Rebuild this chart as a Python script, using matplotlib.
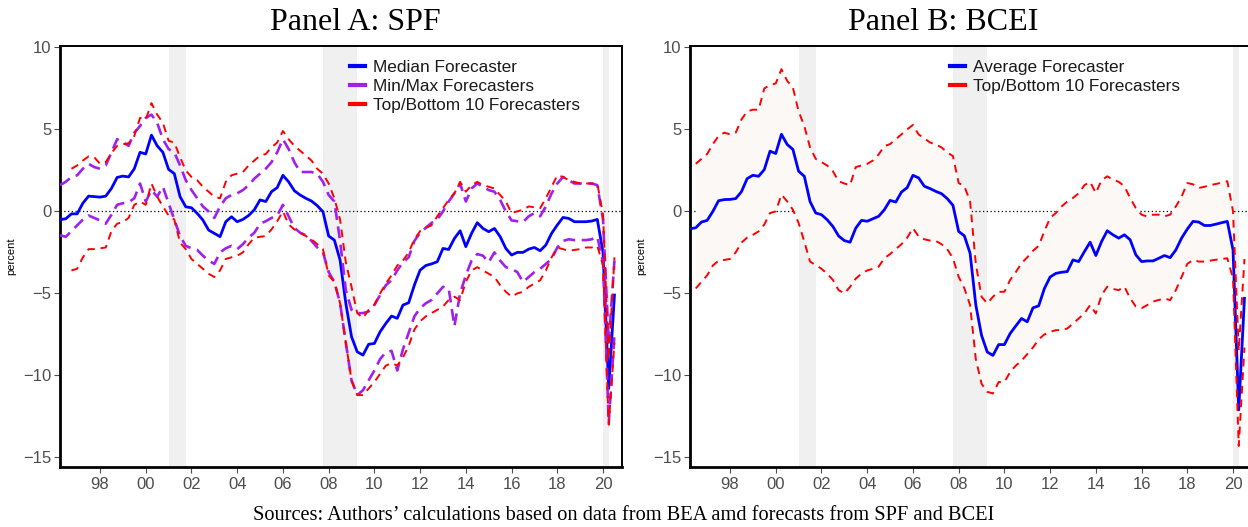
import numpy as np
import pandas as pd
import matplotlib
matplotlib.use("Agg")
import matplotlib.pyplot as plt

# ---------------- data ----------------
quarters = pd.period_range("1996Q2", "2020Q3", freq="Q")

# Panel A: SPF
spf_median = [-0.5, -0.45, -0.15, -0.15, 0.5, 0.93, 0.9, 0.87, 0.93, 1.4,
              2.07, 2.15, 2.1, 2.6, 3.6, 3.5, 4.65, 4.0, 3.6, 2.56,
              2.3, 0.9, 0.28, 0.22, -0.12, -0.53, -1.14, -1.34, -1.54, -0.63,
              -0.33, -0.63, -0.49, -0.25, 0.1, 0.7, 0.6, 1.2, 1.45, 2.2,
              1.8, 1.26, 1.0, 0.8, 0.63, 0.35, -0.02, -1.5, -1.75, -2.97,
              -5.6, -7.64, -8.56, -8.76, -8.1, -8.05, -7.34, -6.83, -6.38, -6.52,
              -5.71, -5.57, -4.49, -3.58, -3.3, -3.2, -3.07, -2.26, -2.32, -1.65,
              -1.18, -2.15, -1.34, -0.69, -1.04, -1.24, -1.04, -1.54, -2.26, -2.66,
              -2.5, -2.5, -2.3, -2.2, -2.4, -2.05, -1.34, -0.83, -0.37, -0.43,
              -0.63, -0.63, -0.63, -0.59, -0.49, -2.5, -10.8, -5.1]

spf_max = [1.6, 1.8, 2.1, 2.2, 2.6, 2.9, 2.7, 2.6, 2.8, 3.6,
           4.4, 4.2, 4.0, 4.8, 5.2, 5.7, 5.9, 5.4, 4.4, 3.8,
           3.6, 2.8, 1.9, 1.3, 0.8, 0.3, 0.0, -0.4, 0.3, 0.8,
           1.0, 1.1, 1.3, 1.6, 2.0, 2.3, 2.6, 3.0, 3.6, 4.4,
           3.8, 3.0, 2.4, 2.4, 2.4, 2.3, 1.8, 1.0, 0.6, -1.8,
           -4.8, -6.0, -6.2, -6.2, -6.1, -5.7, -5.1, -4.5, -4.2, -3.6,
           -3.1, -2.8, -1.8, -1.3, -1.0, -0.7, -0.5, 0.0, 0.6, 1.1,
           1.7, 0.6, 1.4, 1.7, 1.5, 1.3, 1.2, 0.7, 0.0, -0.55,
           -0.6, -0.65, -0.3, -0.1, -0.3, 0.3, 1.1, 1.7, 2.1, 1.9,
           1.7, 1.7, 1.7, 1.7, 1.6, -0.5, -8.0, -3.0]

spf_min = [-1.45, -1.55, -1.2, -0.85, -0.5, -0.25, -0.4, -0.55, -0.75, -0.2,
           0.4, 0.5, 0.55, 0.8, 1.7, 0.6, 1.3, 0.9, 1.5, 0.5,
           -0.5, -1.5, -2.1, -2.25, -2.35, -2.7, -3.0, -3.2, -2.5, -2.25,
           -2.1, -2.3, -2.0, -1.6, -1.3, -0.75, -0.6, -0.4, -0.25, 0.4,
           -0.3, -1.0, -1.3, -1.45, -1.8, -2.2, -2.5, -3.7, -4.3, -5.6,
           -8.0, -10.3, -11.2, -10.9, -10.3, -9.7, -9.0, -8.6, -8.5, -9.7,
           -8.4, -7.4, -6.4, -5.9, -5.6, -5.4, -5.0, -4.6, -4.7, -7.0,
           -5.0, -3.9, -3.0, -2.6, -2.7, -3.1, -2.5, -3.0, -3.4, -3.5,
           -3.7, -4.3, -4.0, -3.7, -3.5, -3.2, -2.9, -2.2, -1.8, -1.7,
           -1.75, -1.75, -1.75, -1.7, -1.55, -3.1, -12.9, -7.5]

nan = np.nan
spf_top10 = [nan, nan, 2.6, 2.8, 3.1, 3.35, 3.3, 2.9, 3.0, 3.55,
             4.0, 4.1, 4.15, 4.6, 5.7, 5.6, 6.6, 5.9, 5.4, 4.3,
             4.2, 3.3, 2.5, 2.1, 1.9, 1.5, 1.2, 0.9, 0.8, 1.8,
             2.2, 2.3, 2.4, 2.8, 3.1, 3.4, 3.5, 3.9, 4.2, 4.9,
             4.4, 4.0, 3.7, 3.4, 3.1, 2.6, 2.3, 1.7, 0.8, -0.5,
             -3.1, -4.6, -6.2, -6.5, -6.0, -5.7, -5.0, -4.4, -3.9, -3.3,
             -3.0, -2.5, -1.7, -1.2, -1.0, -0.85, -0.3, 0.2, 0.7, 1.1,
             1.8, 1.2, 1.6, 1.8, 1.6, 1.5, 1.4, 1.0, 0.6, -0.1,
             0.0, 0.1, 0.3, 0.25, 0.2, 0.8, 1.5, 2.2, 2.1, 1.9,
             1.8, 1.7, 1.7, 1.7, 1.7, -0.2, -9.0, -2.8]

spf_bot10 = [nan, nan, -3.6, -3.5, -2.8, -2.3, -2.3, -2.25, -2.2, -1.2,
             -0.75, -0.65, -0.4, 0.4, 0.6, 0.4, 1.7, 0.9, 0.3, -0.25,
             -0.5, -1.9, -2.3, -2.9, -3.2, -3.5, -3.8, -4.0, -3.6, -2.9,
             -2.8, -2.7, -2.5, -2.0, -1.6, -1.55, -1.5, -1.1, -0.6, 0.0,
             -0.8, -1.1, -1.3, -1.5, -1.7, -2.0, -2.3, -3.9, -4.3, -5.6,
             -8.0, -10.3, -11.2, -11.2, -10.8, -10.4, -9.9, -9.4, -9.25, -9.4,
             -8.9, -8.2, -7.2, -6.7, -6.4, -6.2, -6.0, -5.8, -5.4, -5.2,
             -5.4, -4.3, -3.6, -3.4, -3.6, -3.8, -4.0, -4.5, -4.9, -5.2,
             -5.0, -4.9, -4.6, -4.4, -4.2, -3.6, -2.8, -2.2, -2.3, -2.4,
             -2.35, -2.3, -2.2, -2.2, -2.1, -3.3, -13.0, -8.0]

# Panel B: BCEI
bcei_avg = [-1.06, -1.0, -0.65, -0.55, 0.0, 0.65, 0.72, 0.73, 0.78, 1.2,
            2.0, 2.2, 2.14, 2.55, 3.67, 3.53, 4.7, 4.08, 3.78, 2.45,
            2.14, 0.6, -0.1, -0.2, -0.51, -0.92, -1.5, -1.78, -1.88, -1.02,
            -0.55, -0.6, -0.45, -0.3, 0.1, 0.67, 0.57, 1.18, 1.45, 2.2,
            2.04, 1.53, 1.39, 1.22, 1.08, 0.78, 0.37, -1.22, -1.49, -2.55,
            -5.7, -7.55, -8.57, -8.78, -8.12, -8.12, -7.45, -6.98, -6.53, -6.73,
            -5.88, -5.76, -4.7, -4.0, -3.78, -3.71, -3.67, -2.96, -3.06, -2.45,
            -1.88, -2.69, -1.84, -1.18, -1.43, -1.63, -1.43, -1.73, -2.65, -3.06,
            -3.02, -3.02, -2.86, -2.69, -2.82, -2.35, -1.63, -1.08, -0.61, -0.65,
            -0.86, -0.86, -0.78, -0.69, -0.61, -2.35, -12.1, -5.3]

bcei_top10 = [nan, 2.9, 3.2, 3.5, 4.1, 4.6, 4.8, 4.7, 4.8, 5.6,
              6.1, 6.2, 6.2, 7.5, 7.7, 7.8, 8.67, 7.96, 7.55, 6.1,
              5.2, 3.9, 3.2, 3.0, 2.8, 2.45, 1.84, 1.7, 1.6, 2.7,
              2.8, 2.9, 3.1, 3.47, 3.98, 4.1, 4.4, 4.7, 5.0, 5.27,
              4.69, 4.45, 4.2, 4.08, 3.9, 3.6, 3.37, 1.73, 1.53, 0.61,
              -3.2, -5.2, -5.61, -5.2, -4.9, -4.9, -4.18, -3.7, -3.16, -2.8,
              -2.4, -2.1, -1.2, -0.4, -0.1, 0.3, 0.6, 0.82, 1.1, 1.6,
              1.8, 1.12, 1.9, 2.14, 1.94, 1.8, 1.53, 0.82, 0.2, -0.2,
              -0.31, -0.2, -0.2, -0.3, -0.2, 0.3, 0.9, 1.73, 1.65, 1.43,
              1.5, 1.6, 1.67, 1.75, 1.84, 0.0, -8.5, -2.9]

bcei_bot10 = [nan, -4.7, -4.3, -3.9, -3.3, -3.0, -2.96, -2.9, -2.5, -1.9,
              -1.6, -1.43, -1.22, -0.8, -0.1, 0.0, 1.02, 0.61, 0.1, -0.71,
              -1.84, -3.06, -3.27, -3.5, -3.8, -4.18, -4.8, -5.0, -4.6, -4.1,
              -3.8, -3.6, -3.5, -3.37, -2.86, -2.6, -2.3, -2.0, -1.6, -1.02,
              -1.53, -1.7, -1.78, -1.8, -2.0, -2.3, -2.86, -3.98, -4.69, -5.71,
              -9.0, -10.5, -11.0, -11.1, -10.4, -10.4, -9.8, -9.4, -9.1, -8.7,
              -8.3, -7.8, -7.5, -7.35, -7.24, -7.24, -7.14, -6.84, -6.53, -6.22,
              -5.71, -6.22, -5.1, -4.59, -4.73, -4.8, -4.59, -5.3, -5.8, -5.9,
              -5.71, -5.5, -5.4, -5.31, -5.41, -4.8, -4.0, -3.2, -2.96, -3.06,
              -3.06, -3.0, -2.95, -2.9, -2.86, -4.1, -14.3, -8.3]

recessions = [(2001.0, 2001.75), (2007.75, 2009.25), (2020.0, 2020.25)]
tick_years = list(range(1998, 2021, 2))
tick_labels = [f"{y % 100:02d}" for y in tick_years]
y_ticks = [10, 5, 0, -5, -10, -15]

# ---------------- style ----------------
plt.rcParams["font.family"] = ["Liberation Sans", "DejaVu Sans"]
x = np.array([q.year + (q.quarter - 1) / 4 for q in quarters])

BLUE = "#0000FF"
PURPLE = "#A020F0"
RED = "#FF0000"
GRAY_TXT = "#4D4D4D"

W, H = 1248, 527
fig = plt.figure(figsize=(W / 100, H / 100), dpi=100)


def px_axes(left, top, right, bottom):
    return fig.add_axes([left / W, 1 - bottom / H, (right - left) / W, (bottom - top) / H])


def style_axes(ax):
    ax.set_xlim(1996.25, 2020.83)
    ax.set_ylim(-15.6, 10.1)
    ax.set_xticks(tick_years)
    ax.set_xticklabels(tick_labels)
    ax.set_yticks(y_ticks)
    ax.set_yticklabels([str(v).replace("-", "\u2212") for v in y_ticks])
    ax.tick_params(axis="both", direction="out", length=4, width=0.8,
                   colors=GRAY_TXT, labelsize=12)
    ax.tick_params(axis="x", pad=3)
    ax.tick_params(axis="y", pad=2)
    for side in ["top", "right"]:
        ax.spines[side].set_linewidth(1.4)
    for side in ["left", "bottom"]:
        ax.spines[side].set_linewidth(2.0)
    for s in ax.spines.values():
        s.set_color("black")
    for a, b in recessions:
        ax.axvspan(a, b, color="#F0F0F0", lw=0, zorder=0)
    ax.axhline(0, color="black", lw=0.9, ls=(0, (1, 2)), zorder=1)
    ax.set_ylabel("percent", fontsize=8)
    ax.yaxis.set_label_coords(-0.077, 0.5)


def style_legend(leg):
    for t in leg.get_texts():
        t.set_color("#1A1A1A")
    for h in leg.get_lines():
        h.set_linestyle("-")
        h.set_linewidth(3)


LEG_KW = dict(loc="upper left", frameon=False, fontsize=12.4, handlelength=0.9,
              handletextpad=0.45, labelspacing=0.25, borderpad=0, borderaxespad=0)

# Panel A
axA = px_axes(60, 45.7, 622, 467.3)
style_axes(axA)
axA.plot(x, spf_median, color=BLUE, lw=2.0, zorder=3, label="Median Forecaster")
axA.plot(x, spf_max, color=PURPLE, lw=1.9, ls=(0, (4.5, 2.5)), zorder=4,
         label="Min/Max Forecasters")
axA.plot(x, spf_min, color=PURPLE, lw=1.9, ls=(0, (4.5, 2.5)), zorder=4)
axA.plot(x, spf_top10, color=RED, lw=1.4, ls=(0, (4, 3)), zorder=5,
         label="Top/Bottom 10 Forecasters")
axA.plot(x, spf_bot10, color=RED, lw=1.4, ls=(0, (4, 3)), zorder=5)
style_legend(axA.legend(bbox_to_anchor=(0.516, 0.967), **LEG_KW))

# Panel B (extends past the right edge of the figure)
axB = px_axes(690, 45.7, 1252, 467.3)
style_axes(axB)
axB.fill_between(x, bcei_bot10, bcei_top10, color="#FCF8F6", lw=0, zorder=1)
axB.plot(x, bcei_avg, color=BLUE, lw=2.0, zorder=3, label="Average Forecaster")
axB.plot(x, bcei_top10, color=RED, lw=1.4, ls=(0, (4, 3)), zorder=4,
         label="Top/Bottom 10 Forecasters")
axB.plot(x, bcei_bot10, color=RED, lw=1.4, ls=(0, (4, 3)), zorder=4)
style_legend(axB.legend(bbox_to_anchor=(0.4626, 0.967), **LEG_KW))

# Titles and caption
fig.text(355 / W, 1 - 23 / H, "Panel A: SPF", ha="center", va="center",
         fontsize=23, family="Liberation Serif")
fig.text(943 / W, 1 - 23 / H, "Panel B: BCEI", ha="center", va="center",
         fontsize=23, family="Liberation Serif")
fig.text(624 / W, 1 - 516 / H,
         "Sources: Authors\u2019 calculations based on data from BEA amd forecasts from SPF and BCEI",
         ha="center", va="center", fontsize=14.7, family="Liberation Serif")

fig.savefig("out.png", dpi=100)
